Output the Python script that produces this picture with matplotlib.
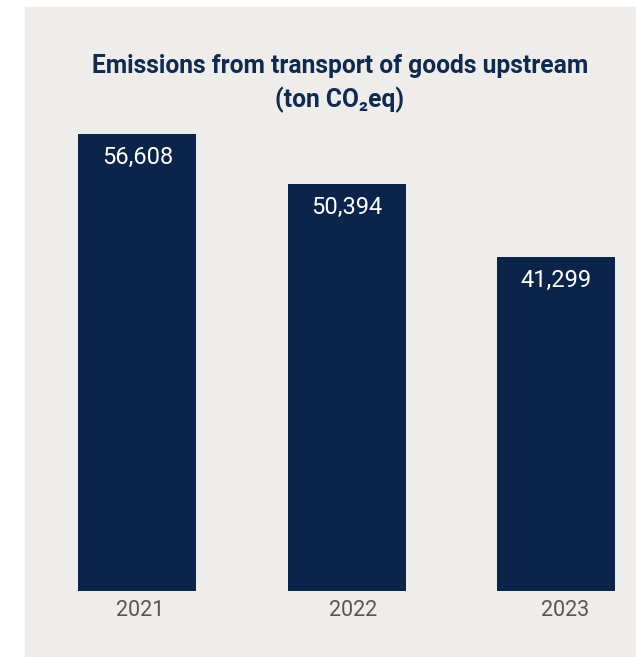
import matplotlib
matplotlib.use("Agg")
import matplotlib.pyplot as plt
from matplotlib.patches import Rectangle
from matplotlib.transforms import ScaledTranslation

# data
YEARS = ["2021", "2022", "2023"]
EMISSIONS = [56608, 50394, 41299]
TITLE = "Emissions from transport of goods upstream\n(ton CO\u2082eq)"

BAR = "#0c2449"
TITLE_C = "#0f2a4f"
PANEL = "#eeedeb"
TICK_C = "#555555"
FONT = ["Roboto", "DejaVu Sans"]

W, H = 636, 657
fig = plt.figure(figsize=(W / 100, H / 100), dpi=100, facecolor="white")

# grey panel behind everything
fig.patches.append(Rectangle((25 / W, 0), 1 - 25 / W, 1 - 7 / H,
                             transform=fig.transFigure, color=PANEL, zorder=-5))

# axes placed so that bars land where the reference has them
step = 209.4
x0 = 137.3
left = x0 - 0.5 * step
right = W
base = H - 590.7
px_per_unit = 8.074 / 1000
ymax = 60000
ax = fig.add_axes([left / W, base / H, (right - left) / W, ymax * px_per_unit / H])
ax.set_zorder(2)
ax.set_facecolor("none")
xs = list(range(len(YEARS)))
ax.bar(xs, EMISSIONS, width=118 / step, color=BAR, zorder=2)
ax.set_xlim(-0.5, (right - x0) / step)
ax.set_ylim(0, ymax)

for x, v in zip(xs, EMISSIONS):
    ax.annotate(f"{v:,}", (x, v), textcoords="offset points", xytext=(0, -17),
                ha="center", va="center", color="white", fontsize=17,
                family=FONT)

ax.set_xticks(xs)
ax.set_xticklabels(YEARS, family=FONT, fontsize=15.5, color=TICK_C)
ax.tick_params(axis="x", length=0, pad=6.5)
# year labels drift a little to the right in the original
for i, lbl in enumerate(ax.get_xticklabels()):
    lbl.set_transform(lbl.get_transform()
                      + ScaledTranslation((3 + 3 * i) / 100, 0, fig.dpi_scale_trans))
ax.set_yticks([])
for s in ax.spines.values():
    s.set_visible(False)

fig.text(340 / W, 1 - 54 / H, TITLE, ha="center", va="top", ma="center",
         color=TITLE_C, fontsize=17.7, fontweight="bold", family=FONT,
         linespacing=1.42)

fig.savefig("out.png", dpi=100, facecolor="white")
